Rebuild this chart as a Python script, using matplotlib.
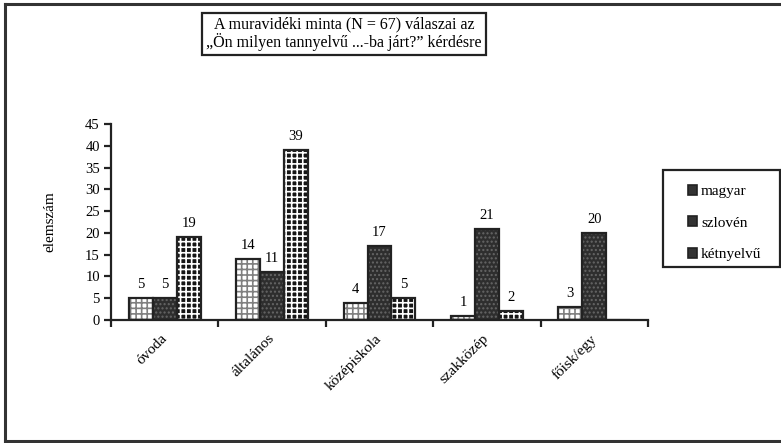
import numpy as np
import matplotlib.pyplot as plt
from matplotlib.lines import Line2D
from matplotlib.patches import Rectangle

plt.rcParams['font.family'] = ['Liberation Serif', 'DejaVu Serif']

categories = ['óvoda', 'általános', 'középiskola', 'szakközép', 'főisk/egy']
magyar = [5, 14, 4, 1, 3]
szloven = [5, 11, 17, 21, 20]
ketnyelvu = [19, 39, 5, 2, 0]
series_names = ['magyar', 'szlovén', 'kétnyelvű']

fig = plt.figure(figsize=(7.81, 4.43), dpi=100)
ax = fig.add_axes([0.1421, 0.2777, 0.6876, 0.4424])

x = np.arange(len(categories))
w = 0.223
styles = [
    dict(face='white', hatch_col='#808080', hatch='+++', hlw=1.2),
    dict(face='#2e2e2e', hatch_col='#666666', hatch='....', hlw=1.0),
    dict(face='#151515', hatch_col='white', hatch='+++', hlw=1.2),
]
series = [magyar, szloven, ketnyelvu]
handles = []
for k, (vals, st) in enumerate(zip(series, styles)):
    pos = x + (k - 1) * w
    # hatch line width is taken from rcParams when the patch is made
    with plt.rc_context({'hatch.linewidth': st['hlw']}):
        ax.bar(pos, vals, w, color=st['face'], edgecolor=st['hatch_col'],
               hatch=st['hatch'], linewidth=0, zorder=2)
    handles.append(Rectangle((0, 0), 1, 1, facecolor='#333333',
                             edgecolor='#222222', linewidth=1.2))
    bars = ax.bar(pos, vals, w, fill=False, edgecolor='#222222',
                  linewidth=1.6, zorder=3)
    labels = [str(v) if v else '' for v in vals]
    ax.bar_label(bars, labels=labels, padding=5, fontsize=10.5)

ax.set_xlim(-0.5, len(categories) - 0.5)
ax.set_ylim(0, 45)
ax.set_yticks(np.arange(0, 46, 5))
ax.set_xticks(np.arange(-0.5, len(categories), 1.0))
ax.set_xticklabels([])
ax.set_xticks(x, minor=True)
ax.set_xticklabels(categories, minor=True, rotation=45, ha='right',
                   va='center', rotation_mode='anchor', fontsize=11)
ax.tick_params(axis='x', which='minor', length=0, pad=12)
ax.tick_params(axis='both', which='major', length=5, width=1.6,
               color='#222222', labelsize=10.5, pad=3)
for s in ['top', 'right']:
    ax.spines[s].set_visible(False)
for s in ['left', 'bottom']:
    ax.spines[s].set_linewidth(1.6)
    ax.spines[s].set_color('#222222')
ax.set_ylabel('elemszám', fontsize=11, labelpad=21)

fig.text(0.4405, 0.923, 'A muravidéki minta (N = 67) válaszai az\n'
         '„Ön milyen tannyelvű ...-ba járt?” kérdésre',
         ha='center', va='center', fontsize=11.5, linespacing=1.05,
         bbox=dict(boxstyle='square,pad=0.25', facecolor='white',
                   edgecolor='#222222', linewidth=1.6))

# legend frame drawn separately so its padding can be set freely
fig.add_artist(Rectangle((663 / 781, 1 - 267 / 443), 117 / 781, 97 / 443,
                         transform=fig.transFigure, fill=False,
                         edgecolor='#222222', linewidth=1.6))
fig.legend(handles, series_names, loc='center left',
           bbox_to_anchor=(688 / 781, 1 - 223 / 443), frameon=False,
           fontsize=11, handlelength=0.6, handleheight=0.6,
           handletextpad=0.25, labelspacing=1.2, borderpad=0,
           borderaxespad=0)

# frame round the figure: left, top and bottom only
for xs, ys in [((0.0070, 0.0070), (0.005, 0.99)),
               ((0.0070, 1.0), (0.99, 0.99)),
               ((0.0070, 1.0), (0.005, 0.005))]:
    fig.add_artist(Line2D(xs, ys, color='#333333', linewidth=2.2))

fig.savefig('out.png', dpi=100)
